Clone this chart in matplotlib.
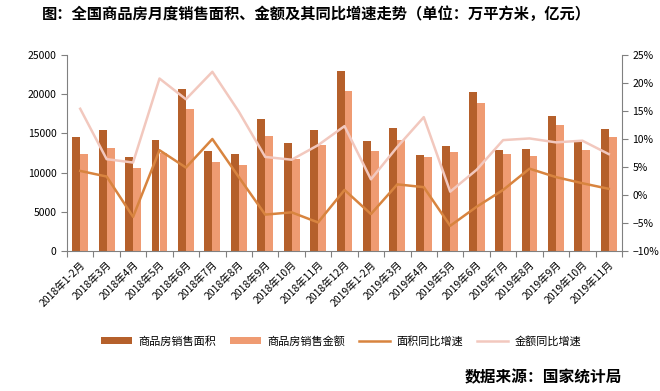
import numpy as np
import matplotlib
matplotlib.use('Agg')
import matplotlib.pyplot as plt
from matplotlib.ticker import FuncFormatter, FixedLocator

plt.rcParams['font.family'] = ['Noto Sans CJK SC', 'DejaVu Sans']
plt.rcParams['axes.unicode_minus'] = False

months = ['1-2月', '3月', '4月', '5月', '6月', '7月', '8月', '9月', '10月', '11月', '12月']
labels = ['2018年' + m for m in months] + ['2019年' + m for m in months[:10]]

# 万平方米 / 亿元
area = [14541, 15434, 11990, 14158, 20663, 12755, 12372, 16837, 13776, 15434, 22959,
        14031, 15689, 12245, 13393, 20281, 12883, 13010, 17219, 13903, 15561]
amount = [12372, 13180, 10629, 12550, 18112, 11352, 10969, 14668, 11735, 13520, 20408,
          12755, 14158, 11990, 12628, 18878, 12372, 12117, 16071, 12883, 14541]
# 同比增速 %
area_yoy = [4.3, 3.3, -3.9, 8.0, 4.9, 10.0, 3.2, -3.5, -3.1, -4.9, 0.9,
            -3.4, 1.9, 1.4, -5.5, -2.1, 0.9, 4.7, 3.2, 2.1, 1.1]
amount_yoy = [15.4, 6.4, 5.8, 20.8, 17.1, 22.0, 14.9, 6.8, 6.3, 8.9, 12.3,
              2.8, 8.6, 13.9, 0.6, 4.5, 9.8, 10.1, 9.4, 9.7, 7.3]

c_area = '#B5602B'
c_amount = '#EF9B72'
c_area_yoy = '#D8843F'
c_amount_yoy = '#F2C8BE'
c_axis = '#808080'

fig = plt.figure(figsize=(6.6, 3.91), dpi=100)
ax = fig.add_axes([67 / 660, 1 - 251 / 391, 555 / 660, 196 / 391])
ax2 = ax.twinx()

x = np.arange(len(labels))
w = 0.3
b1 = ax.bar(x - w / 2, area, w, color=c_area, label='商品房销售面积', zorder=2)
b2 = ax.bar(x + w / 2, amount, w, color=c_amount, label='商品房销售金额', zorder=2)
l1, = ax2.plot(x, area_yoy, color=c_area_yoy, lw=1.8, label='面积同比增速')
l2, = ax2.plot(x, amount_yoy, color=c_amount_yoy, lw=1.8, label='金额同比增速')

ax.set_xlim(-0.5, len(labels) - 0.5)
ax.set_ylim(0, 25000)
ax.set_yticks(np.arange(0, 25001, 5000))
ax2.set_ylim(-10, 25)
ax2.set_yticks(np.arange(-10, 26, 5))
ax2.yaxis.set_major_formatter(FuncFormatter(lambda v, p: f'{v:.0f}%'.replace('-', '−')))

ax.xaxis.set_major_locator(FixedLocator(np.arange(-0.5, len(labels), 1)))
ax.xaxis.set_major_formatter(FuncFormatter(lambda v, p: ''))
ax.xaxis.set_minor_locator(FixedLocator(x))
ax.set_xticklabels(labels, minor=True, rotation=45, ha='right', rotation_mode='anchor',
                   fontsize=7.5)
ax.tick_params(axis='x', which='minor', length=0, pad=6)
ax.tick_params(axis='x', which='major', length=4, color=c_axis, direction='out')

for a in (ax, ax2):
    a.spines['top'].set_visible(False)
    for s in ('left', 'right', 'bottom'):
        a.spines[s].set_color(c_axis)
    a.tick_params(axis='y', labelsize=7.5, color=c_axis, length=4)
ax.spines['right'].set_visible(False)
ax2.spines['left'].set_visible(False)
ax2.spines['bottom'].set_visible(False)

fig.text(42 / 660, 1 - 14 / 391, '图：全国商品房月度销售面积、金额及其同比增速走势（单位：万平方米，亿元）',
         fontsize=11, fontweight='bold', va='center', ha='left')

fig.legend(handles=[b1, b2, l1, l2], loc='center', bbox_to_anchor=(341 / 660, 1 - 341 / 391),
           ncol=4, frameon=False, fontsize=8, handlelength=2.8, handleheight=0.5,
           columnspacing=1.2, handletextpad=0.6)

fig.text(622 / 660, 1 - 377 / 391, '数据来源：国家统计局', fontsize=11.3, fontweight='bold',
         ha='right', va='center')

fig.savefig('out.png', dpi=100, facecolor='white')
